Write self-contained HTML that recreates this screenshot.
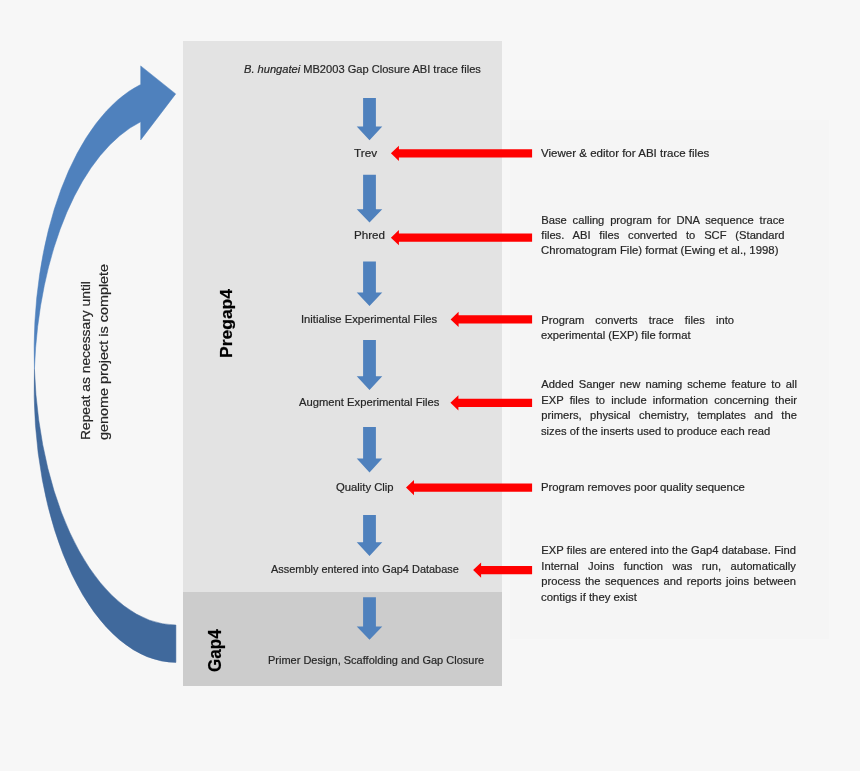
<!DOCTYPE html>
<html><head><meta charset="utf-8"><title>Gap closure pipeline</title>
<style>
html,body{margin:0;padding:0;background:#f7f7f7;}
body{width:860px;height:771px;background:#f7f7f7;position:relative;overflow:hidden;filter:blur(0.5px);font-family:"Liberation Sans",sans-serif;color:#262626;}
.bx{position:absolute;}
.t,.j,.r{-webkit-text-stroke:0.2px currentColor;}
.t{position:absolute;white-space:nowrap;line-height:20px;font-size:11.2px;transform-origin:0 0;}
.j{position:absolute;white-space:nowrap;line-height:20px;font-size:11.2px;text-align:justify;text-align-last:justify;}
.r{position:absolute;white-space:nowrap;line-height:20px;transform-origin:0 0;}
svg{position:absolute;left:0;top:0;}
</style></head><body>

<div class="bx" style="left:510px;top:120px;width:319px;height:519px;background:#f5f5f5"></div>
<div class="bx" style="left:182.9px;top:41px;width:319.3px;height:551px;background:#e3e3e3"></div>
<div class="bx" style="left:182.9px;top:592px;width:319.3px;height:94.3px;background:#cccccc"></div>
<svg width="860" height="771" viewBox="0 0 860 771">
<polygon fill="#4f81bd" points="363.1,98.1 375.9,98.1 375.9,126.4 382.25,126.4 369.5,140.2 356.75,126.4 363.1,126.4"/>
<polygon fill="#4f81bd" points="363.1,174.7 375.9,174.7 375.9,209.2 382.25,209.2 369.5,222.5 356.75,209.2 363.1,209.2"/>
<polygon fill="#4f81bd" points="363.1,261.5 375.9,261.5 375.9,292.6 382.25,292.6 369.5,306.1 356.75,292.6 363.1,292.6"/>
<polygon fill="#4f81bd" points="363.1,340 375.9,340 375.9,376.2 382.25,376.2 369.5,390 356.75,376.2 363.1,376.2"/>
<polygon fill="#4f81bd" points="363.1,426.9 375.9,426.9 375.9,458.4 382.25,458.4 369.5,472.4 356.75,458.4 363.1,458.4"/>
<polygon fill="#4f81bd" points="363.1,515.1 375.9,515.1 375.9,542.3 382.25,542.3 369.5,555.9 356.75,542.3 363.1,542.3"/>
<polygon fill="#4f81bd" points="363.1,597.3 375.9,597.3 375.9,626.4 382.25,626.4 369.5,639.7 356.75,626.4 363.1,626.4"/>
<polygon fill="#ff0000" points="390.9,153.3 398.9,145.65 398.9,149.20000000000002 532.1,149.20000000000002 532.1,157.4 398.9,157.4 398.9,160.95000000000002"/>
<polygon fill="#ff0000" points="390.9,237.7 398.9,230.04999999999998 398.9,233.6 532.1,233.6 532.1,241.79999999999998 398.9,241.79999999999998 398.9,245.35"/>
<polygon fill="#ff0000" points="450.6,319.4 458.6,311.75 458.6,315.29999999999995 532.1,315.29999999999995 532.1,323.5 458.6,323.5 458.6,327.04999999999995"/>
<polygon fill="#ff0000" points="450.4,402.8 458.4,395.15000000000003 458.4,398.7 532.1,398.7 532.1,406.90000000000003 458.4,406.90000000000003 458.4,410.45"/>
<polygon fill="#ff0000" points="406,487.6 414,479.95000000000005 414,483.5 532.1,483.5 532.1,491.70000000000005 414,491.70000000000005 414,495.25"/>
<polygon fill="#ff0000" points="473.1,570.1 481.1,562.45 481.1,566.0 532.1,566.0 532.1,574.2 481.1,574.2 481.1,577.75"/>
<path fill="#4f81bd" stroke="#4f81bd" stroke-width="0.5" d="M34.43,369.10 A141.8,274.6 0 0 1 140.7,84.40 L140.7,65.9 L175.7,93.9 L140.7,139.9 L140.7,121.80 A141.8,274.6 0 0 0 34.43,369.10 Z"/>
<path fill="#40699c" stroke="#40699c" stroke-width="0.5" d="M34.43,369.10 A141.8,274.6 0 0 0 175.9,662.40 L175.9,625.00 A141.8,274.6 0 0 1 34.43,369.10 Z"/>
</svg>
<div class="t" style="left:243.8px;top:58.82px;transform:scaleX(0.9918)"><i>B. hungatei</i> MB2003 Gap Closure ABI trace files</div>
<div class="t" style="left:353.8px;top:142.82px;transform:scaleX(1.0507)">Trev</div>
<div class="t" style="left:354.0px;top:225.42px;transform:scaleX(1.0405)">Phred</div>
<div class="t" style="left:301.4px;top:309.42px;transform:scaleX(1.0037)">Initialise Experimental Files</div>
<div class="t" style="left:299.3px;top:392.42px;transform:scaleX(1.0038)">Augment Experimental Files</div>
<div class="t" style="left:335.5px;top:476.92px;transform:scaleX(1.0076)">Quality Clip</div>
<div class="t" style="left:270.5px;top:559.32px;transform:scaleX(0.9772)">Assembly entered into Gap4 Database</div>
<div class="t" style="left:267.8px;top:649.62px;transform:scaleX(0.9829)">Primer Design, Scaffolding and Gap Closure</div>
<div class="t" style="left:541.0px;top:142.92px;transform:scaleX(1.0305)">Viewer &amp; editor for ABI trace files</div>
<div class="j" style="left:541.3px;top:209.62px;width:243.2px">Base calling program for DNA sequence trace</div>
<div class="j" style="left:541.3px;top:224.92px;width:243.2px">files. ABI files converted to SCF (Standard</div>
<div class="t" style="left:541.3px;top:240.32px;transform:scaleX(1.0156)">Chromatogram File) format (Ewing et al., 1998)</div>
<div class="j" style="left:541.3px;top:310.22px;width:192.7px">Program converts trace files into</div>
<div class="t" style="left:541.3px;top:325.42px;transform:scaleX(1.0021)">experimental (EXP) file format</div>
<div class="j" style="left:541.3px;top:374.32px;width:255.6px">Added Sanger new naming scheme feature to all</div>
<div class="j" style="left:541.3px;top:389.82px;width:255.6px">EXP files to include information concerning their</div>
<div class="j" style="left:541.3px;top:405.32px;width:255.6px">primers, physical chemistry, templates and the</div>
<div class="t" style="left:541.3px;top:420.82px;transform:scaleX(1.0017)">sizes of the inserts used to produce each read</div>
<div class="t" style="left:541.3px;top:476.72px;transform:scaleX(1.0119)">Program removes poor quality sequence</div>
<div class="j" style="left:541.3px;top:540.02px;width:254.6px">EXP files are entered into the Gap4 database. Find</div>
<div class="j" style="left:541.3px;top:555.62px;width:254.6px">Internal Joins function was run, automatically</div>
<div class="j" style="left:541.3px;top:571.32px;width:254.6px">process the sequences and reports joins between</div>
<div class="t" style="left:541.3px;top:586.92px;transform:scaleX(1.0146)">contigs if they exist</div>
<div class="r" style="left:76.30px;top:440.4px;font-size:12.7px;font-weight:400;color:#262626;transform:rotate(-90deg) scaleX(1.0881)">Repeat as necessary until</div>
<div class="r" style="left:93.70px;top:440.4px;font-size:12.7px;font-weight:400;color:#262626;transform:rotate(-90deg) scaleX(1.1352)">genome project is complete</div>
<div class="r" style="left:217.48px;top:357.5px;font-size:16.8px;font-weight:700;color:#000;transform:rotate(-90deg) scaleX(1.0422)">Pregap4</div>
<div class="r" style="left:204.57px;top:671.5px;font-size:17.7px;font-weight:700;color:#000;transform:rotate(-90deg) scaleX(0.9691)">Gap4</div>
</body></html>
